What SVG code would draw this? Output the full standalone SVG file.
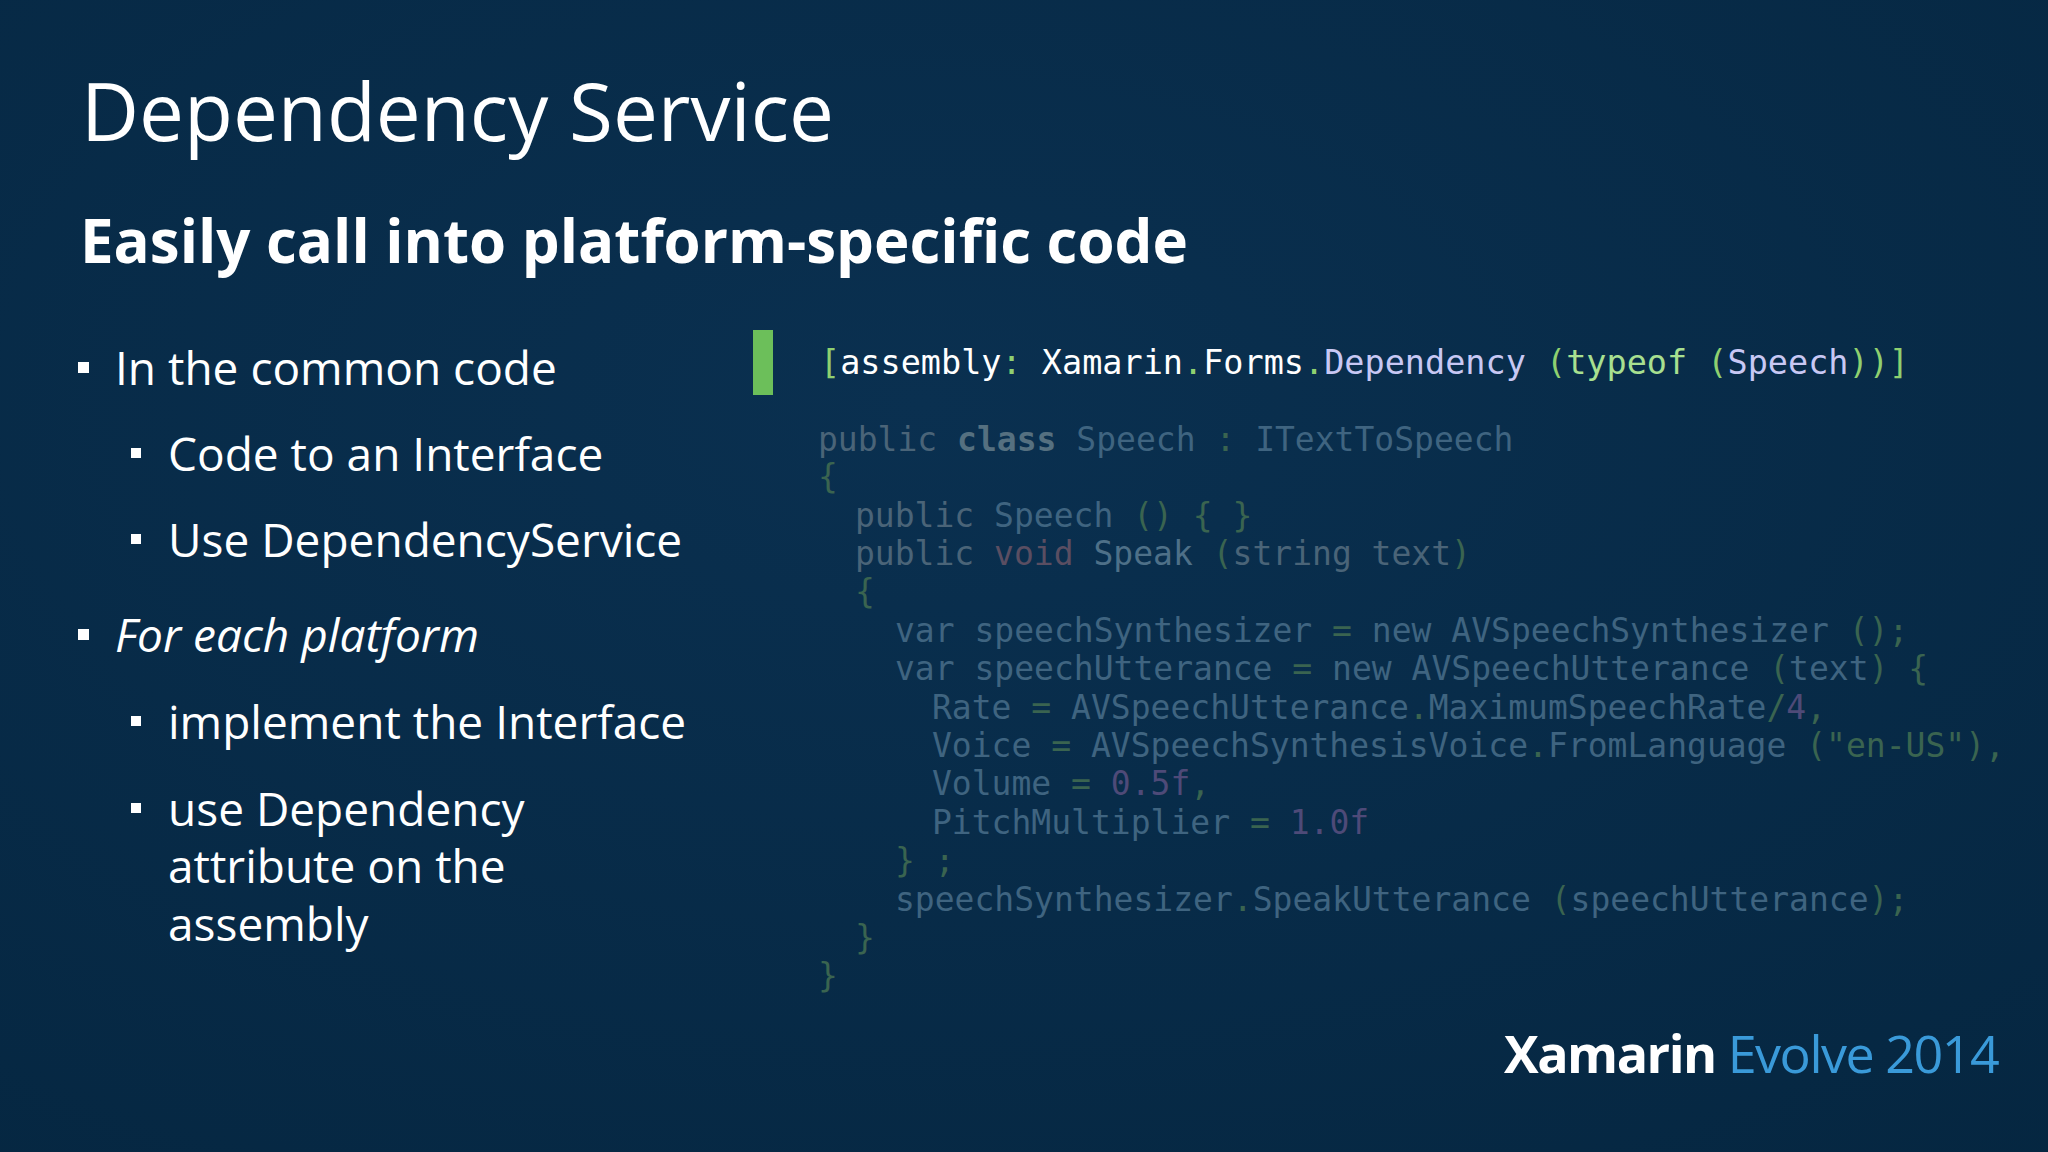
<svg xmlns="http://www.w3.org/2000/svg" width="2048" height="1152" viewBox="0 0 2048 1152">
<defs>
<radialGradient id="bg" cx="0.45" cy="0.35" r="0.9">
<stop offset="0" stop-color="#0a3050"/><stop offset="1" stop-color="#052640"/>
</radialGradient>
<style>
.h{font-family:"Open Sans","Noto Sans",sans-serif;fill:#fff}
.b{font-family:"Open Sans","Noto Sans",sans-serif;fill:#fff;font-size:46px}
.c{font-family:"DejaVu Sans Mono","Liberation Mono",monospace;font-size:33px;fill:#3f6480}
.g{fill:#3a6450}.k{font-weight:bold;fill:#557080}.v{fill:#5a4e62}.n{fill:#4e4a78}.s{fill:#3a6450}
</style>
</defs>
<rect width="2048" height="1152" fill="url(#bg)"/>
<g id="title"><text class="h" x="81" y="141" font-size="80">Dependency Service</text></g>
<g id="subtitle"><text class="h" x="80" y="263" font-size="60" font-weight="bold">Easily call into platform-specific code</text></g>
<g id="bullets">
<rect x="78" y="362" width="11" height="11" fill="#fff"/>
<text class="b" x="115" y="385">In the common code</text>
<rect x="131" y="448" width="10" height="10" fill="#fff"/>
<text class="b" x="168" y="471">Code to an Interface</text>
<rect x="131" y="534" width="10" height="10" fill="#fff"/>
<text class="b" x="168" y="557">Use DependencyService</text>
<rect x="78" y="629" width="11" height="11" fill="#fff"/>
<text class="b" x="115" y="652" font-style="italic">For each platform</text>
<rect x="131" y="716" width="10" height="10" fill="#fff"/>
<text class="b" x="168" y="739">implement the Interface</text>
<rect x="131" y="803" width="10" height="10" fill="#fff"/>
<text class="b" x="168" y="826">use Dependency</text>
<text class="b" x="168" y="883">attribute on the</text>
<text class="b" x="168" y="941">assembly</text>
</g>
<g id="code">
<rect x="753" y="330" width="20" height="65" fill="#6cbf5a"/>
<text class="c" x="820" y="374" style="fill:#fff" textLength="1089" lengthAdjust="spacingAndGlyphs"><tspan fill="#8fd070">[</tspan>assembly<tspan fill="#8fd070">:</tspan> Xamarin<tspan fill="#8fd070">.</tspan>Forms<tspan fill="#8fd070">.</tspan><tspan fill="#c8c8f4">Dependency</tspan> <tspan fill="#8fd070">(</tspan><tspan fill="#a8e090">typeof</tspan> <tspan fill="#8fd070">(</tspan><tspan fill="#c8c8f4">Speech</tspan><tspan fill="#8fd070">))]</tspan></text>
<text class="c" x="818" y="451"><tspan fill="#4a6478">public</tspan> <tspan class="k">class</tspan> Speech <tspan class="g">:</tspan> ITextToSpeech</text>
<text class="c g" x="818" y="488">{</text>
<text class="c" x="855" y="527"><tspan fill="#4a6478">public</tspan> Speech <tspan class="g">() { }</tspan></text>
<text class="c" x="855" y="565"><tspan fill="#4a6478">public</tspan> <tspan class="v">void</tspan> <tspan fill="#4e7088">Speak</tspan> <tspan class="g">(</tspan><tspan fill="#4a6478">string text</tspan><tspan class="g">)</tspan></text>
<text class="c g" x="855" y="603">{</text>
<text class="c" x="895" y="642">var speechSynthesizer <tspan class="g">=</tspan> new AVSpeechSynthesizer <tspan class="g">();</tspan></text>
<text class="c" x="895" y="680">var speechUtterance <tspan class="g">=</tspan> new AVSpeechUtterance <tspan class="g">(</tspan>text<tspan class="g">) {</tspan></text>
<text class="c" x="932" y="719">Rate <tspan class="g">=</tspan> AVSpeechUtterance<tspan class="g">.</tspan>MaximumSpeechRate<tspan class="g">/</tspan><tspan class="n">4</tspan><tspan class="g">,</tspan></text>
<text class="c" x="932" y="757">Voice <tspan class="g">=</tspan> AVSpeechSynthesisVoice<tspan class="g">.</tspan>FromLanguage <tspan class="g">("en-US"),</tspan></text>
<text class="c" x="932" y="795">Volume <tspan class="g">=</tspan> <tspan class="n">0.5f</tspan><tspan class="g">,</tspan></text>
<text class="c" x="932" y="834">PitchMultiplier <tspan class="g">=</tspan> <tspan class="n">1.0f</tspan></text>
<text class="c g" x="895" y="872">} ;</text>
<text class="c" x="895" y="911">speechSynthesizer<tspan class="g">.</tspan>SpeakUtterance <tspan class="g">(</tspan>speechUtterance<tspan class="g">);</tspan></text>
<text class="c g" x="855" y="949">}</text>
<text class="c g" x="818" y="987">}</text>
</g>
<g id="footer"><text x="1504" y="1073" font-family="'Open Sans','Noto Sans',sans-serif" font-size="52" letter-spacing="-1.5"><tspan fill="#fff" font-weight="bold">Xamarin</tspan><tspan fill="#3a9ad9"> Evolve 2014</tspan></text></g>
</svg>
